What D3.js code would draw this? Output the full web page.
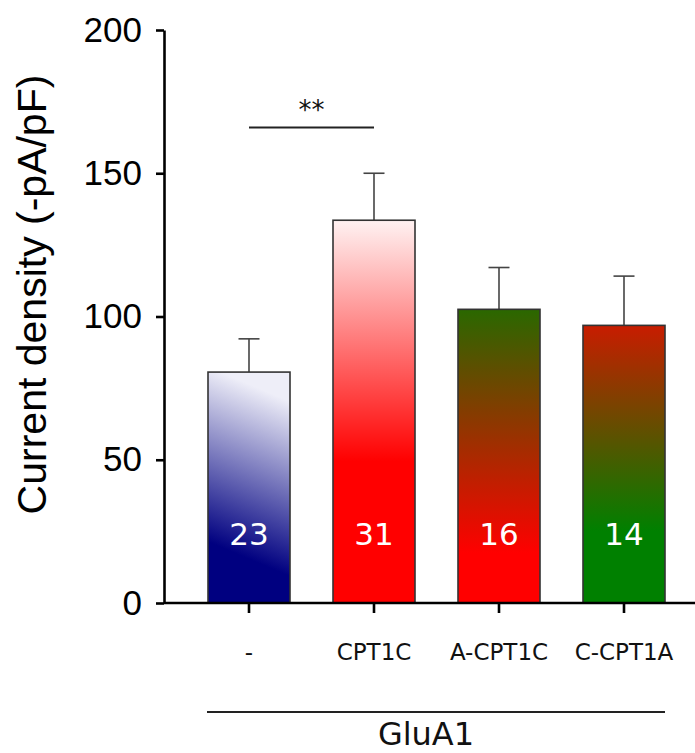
<!DOCTYPE html>
<html>
<head>
<meta charset="utf-8">
<script src="https://cdn.jsdelivr.net/npm/d3@7"></script>
<style>
  html, body { margin: 0; padding: 0; background: #fff; }
  svg { display: block; }
</style>
</head>
<body>
<div id="chart"></div>
<script>
// Whole-cell current density for GluA1 co-expressed with CPT1 constructs
const categories = ["-", "CPT1C", "A-CPT1C", "C-CPT1A"];
const means = [80.6, 133.6, 102.5, 96.9];
const sem = [11.6, 16.4, 14.6, 17.2];
const cellCounts = [23, 31, 16, 14];
const yTicks = [0, 50, 100, 150, 200];
const groupLabel = "GluA1";
const yTitle = "Current density (-pA/pF)";
const significance = { from: "-", to: "CPT1C", label: "**", level: 166 };

// Fill gradients (bottom → top) for each bar
const gradients = [
  { id: "g0", x2: 0.15, stops: [[0, "#000080"], [0.26, "#000080"], [1, "#eeeef8"]] },
  { id: "g1", x2: 0, stops: [[0, "#ff0000"], [0.37, "#ff0000"], [1, "#fff2f2"]] },
  { id: "g2", x2: 0, stops: [[0, "#ff0000"], [0.17, "#ff0000"], [1, "#2a6800"]] },
  { id: "g3", x2: 0, stops: [[0, "#008000"], [0.26, "#008000"], [1, "#c81c00"]] }
];

const W = 695, H = 753;
const svg = d3.select("#chart").append("svg").attr("width", W).attr("height", H);

const axisX = 164, baseY = 603, topY = 30;

const y = d3.scaleLinear().domain([0, 200]).range([baseY, topY]);
const x = d3.scaleBand().domain(categories).range([axisX, 709])
  .paddingInner(0.344).paddingOuter(0.352);

const defs = svg.append("defs");
gradients.forEach(g => {
  const lg = defs.append("linearGradient").attr("id", g.id)
    .attr("x1", 0).attr("y1", 1).attr("x2", g.x2).attr("y2", 0);
  g.stops.forEach(([o, c]) => lg.append("stop").attr("offset", o).attr("stop-color", c));
});

// Significance bracket
svg.append("line")
  .attr("x1", x(significance.from) + x.bandwidth() / 2)
  .attr("x2", x(significance.to) + x.bandwidth() / 2)
  .attr("y1", y(significance.level)).attr("y2", y(significance.level))
  .attr("stroke", "#222").attr("stroke-width", 2);
svg.append("text")
  .attr("x", (x(significance.from) + x(significance.to) + x.bandwidth()) / 2)
  .attr("y", y(significance.level) - 8)
  .attr("text-anchor", "middle")
  .attr("font-family", "DejaVu Sans").attr("font-size", 26).attr("fill", "#111")
  .text(significance.label);

// Error bars (upper SEM)
const eb = svg.append("g").attr("stroke", "#444").attr("stroke-width", 1.6);
categories.forEach((c, i) => {
  const cx = x(c) + x.bandwidth() / 2;
  eb.append("line").attr("x1", cx).attr("x2", cx)
    .attr("y1", y(means[i])).attr("y2", y(means[i] + sem[i]));
  eb.append("line").attr("x1", cx - 10.5).attr("x2", cx + 10.5)
    .attr("y1", y(means[i] + sem[i])).attr("y2", y(means[i] + sem[i]));
});

// Bars
svg.append("g").selectAll("rect").data(categories).join("rect")
  .attr("x", d => x(d))
  .attr("y", (d, i) => y(means[i]))
  .attr("width", x.bandwidth())
  .attr("height", (d, i) => baseY - y(means[i]))
  .attr("fill", (d, i) => `url(#${gradients[i].id})`)
  .attr("stroke", "#333").attr("stroke-width", 1.6);

// Cell counts inside the bars
svg.append("g").selectAll("text").data(categories).join("text")
  .attr("x", d => x(d) + x.bandwidth() / 2)
  .attr("y", 545)
  .attr("text-anchor", "middle")
  .attr("font-family", "DejaVu Sans").attr("font-size", 31).attr("fill", "#fff")
  .text((d, i) => cellCounts[i]);

// Y axis
const yAxis = svg.append("g").attr("transform", `translate(${axisX},0)`)
  .call(d3.axisLeft(y).tickValues(yTicks).tickSize(8).tickSizeOuter(0).tickPadding(14));
yAxis.select(".domain").attr("stroke", "#000").attr("stroke-width", 2.6);
yAxis.selectAll(".tick line").attr("stroke", "#000").attr("stroke-width", 2.6);
yAxis.selectAll(".tick text")
  .attr("font-family", "Liberation Sans, Arial, sans-serif")
  .attr("font-size", 35).attr("fill", "#000");

// X axis
const xAxis = svg.append("g").attr("transform", `translate(0,${baseY})`)
  .call(d3.axisBottom(x).tickSize(10).tickSizeOuter(0).tickFormat(""));
xAxis.select(".domain").attr("d", `M${axisX},0H${W}`)
  .attr("stroke", "#000").attr("stroke-width", 2.6);
xAxis.selectAll(".tick line").attr("stroke", "#000").attr("stroke-width", 2.6);

// Category labels
svg.append("g").selectAll("text").data(categories).join("text")
  .attr("x", d => x(d) + x.bandwidth() / 2)
  .attr("y", 660)
  .attr("text-anchor", "middle")
  .attr("font-family", "DejaVu Sans").attr("font-size", 23).attr("fill", "#111")
  .text(d => d);

// Group bracket and label
const gx1 = x(categories[0]) - 1, gx2 = x(categories[categories.length - 1]) + x.bandwidth();
svg.append("line").attr("x1", gx1).attr("x2", gx2).attr("y1", 712).attr("y2", 712)
  .attr("stroke", "#222").attr("stroke-width", 2);
svg.append("text")
  .attr("x", (gx1 + gx2) / 2 - 10).attr("y", 745)
  .attr("text-anchor", "middle")
  .attr("font-family", "DejaVu Sans").attr("font-size", 32).attr("fill", "#111")
  .text(groupLabel);

// Y axis title
svg.append("text")
  .attr("transform", `translate(46,${294.5}) rotate(-90)`)
  .attr("text-anchor", "middle")
  .attr("font-family", "Liberation Sans, Arial, sans-serif")
  .attr("font-size", 41).attr("fill", "#000")
  .text(yTitle);
</script>
</body>
</html>
